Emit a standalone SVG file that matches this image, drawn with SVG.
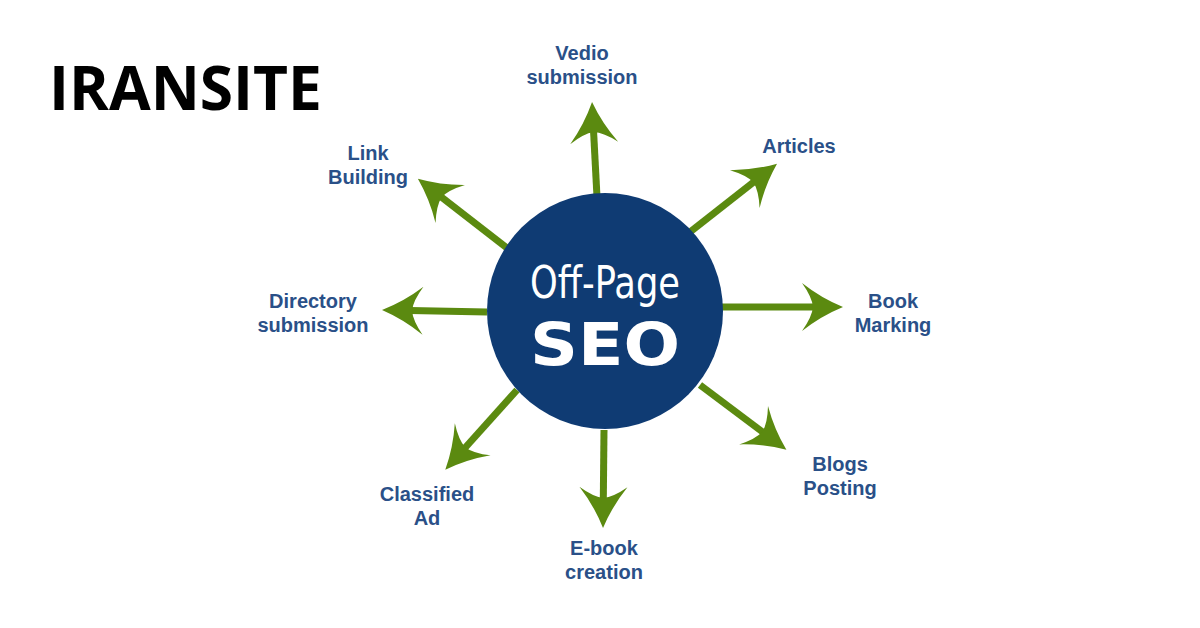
<svg xmlns="http://www.w3.org/2000/svg" width="1200" height="628" viewBox="0 0 1200 628">
<style>
.lbl{font-family:"Liberation Sans",Arial,sans-serif;font-size:20px;font-weight:700;fill:#2a5088;text-anchor:middle}
.arr{stroke:#5b8a10;stroke-width:7;fill:none;marker-end:url(#ah)}
</style>
<defs>
<marker id="ah" markerUnits="userSpaceOnUse" viewBox="-14 -24 44 48" refX="0" refY="0" markerWidth="44" markerHeight="48" orient="auto" overflow="visible">
<path d="M28,0 Q6,-9 -13,-24 Q-3,-10 -2,0 Q-3,10 -13,24 Q6,9 28,0 Z" fill="#5b8a10"/>
</marker>
</defs>
<rect width="1200" height="628" fill="#ffffff"/>
<text x="49" y="110" font-family="'Open Sans','Noto Sans',sans-serif" font-weight="700" font-size="60" fill="#000" textLength="273" lengthAdjust="spacingAndGlyphs">IRANSITE</text>
<g id="connectors">
<line class="arr" x1="597" y1="197" x2="593.5" y2="130"/>
<line class="arr" x1="690" y1="232" x2="755" y2="181"/>
<line class="arr" x1="722" y1="307" x2="815" y2="307"/>
<line class="arr" x1="700" y1="385" x2="764" y2="433"/>
<line class="arr" x1="604" y1="430" x2="603.3" y2="500"/>
<line class="arr" x1="517" y1="390" x2="464" y2="449"/>
<line class="arr" x1="487" y1="312" x2="410" y2="310.5"/>
<line class="arr" x1="507" y1="248" x2="440" y2="196"/>
</g>
<g id="center">
<circle cx="605" cy="311" r="118" fill="#0f3b73"/>
<text x="605" y="298" font-family="'DejaVu Sans',sans-serif" font-size="45" fill="#fff" text-anchor="middle" textLength="150" lengthAdjust="spacingAndGlyphs">Off-Page</text>
<text x="605" y="365" font-family="'DejaVu Sans',sans-serif" font-weight="700" font-size="59" fill="#fff" text-anchor="middle" textLength="150" lengthAdjust="spacingAndGlyphs">SEO</text>
</g>
<g id="vedio"><text class="lbl" x="582" y="60">Vedio</text><text class="lbl" x="582" y="84">submission</text></g>
<g id="articles"><text class="lbl" x="799" y="153">Articles</text></g>
<g id="bookmarking"><text class="lbl" x="893" y="308">Book</text><text class="lbl" x="893" y="332">Marking</text></g>
<g id="blogs"><text class="lbl" x="840" y="471">Blogs</text><text class="lbl" x="840" y="495">Posting</text></g>
<g id="ebook"><text class="lbl" x="604" y="555">E-book</text><text class="lbl" x="604" y="579">creation</text></g>
<g id="classified"><text class="lbl" x="427" y="501">Classified</text><text class="lbl" x="427" y="525">Ad</text></g>
<g id="directory"><text class="lbl" x="313" y="308">Directory</text><text class="lbl" x="313" y="332">submission</text></g>
<g id="link"><text class="lbl" x="368" y="160">Link</text><text class="lbl" x="368" y="184">Building</text></g>
</svg>
